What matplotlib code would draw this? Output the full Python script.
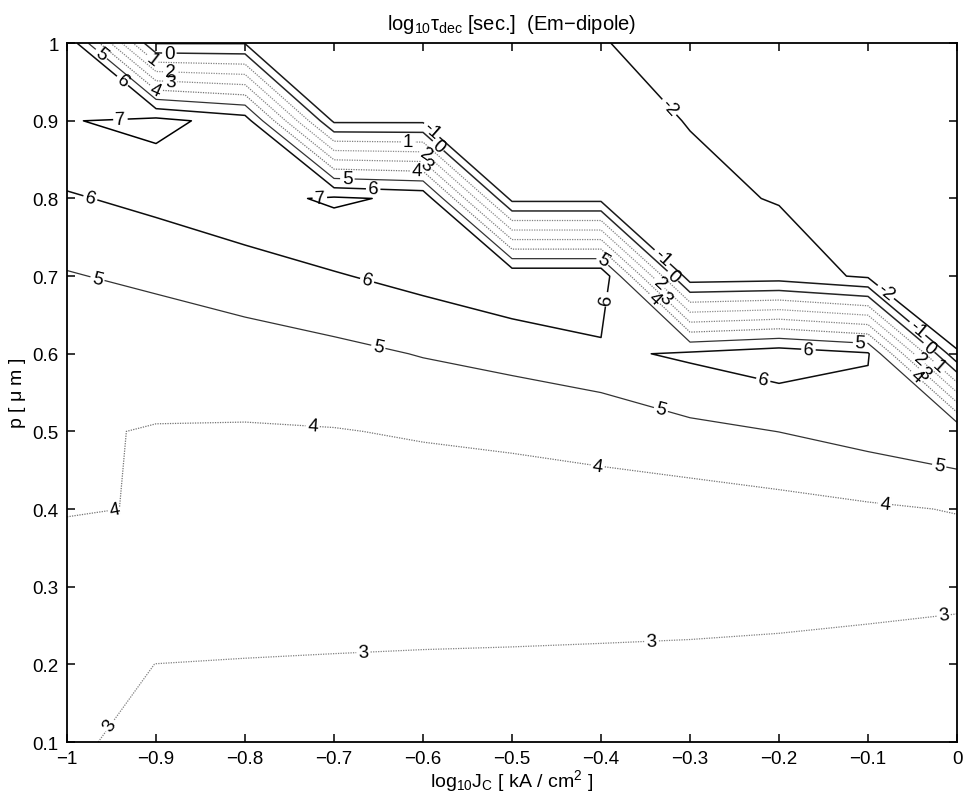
import numpy as np
import matplotlib
matplotlib.use('Agg')
import matplotlib.pyplot as plt

plt.rcParams['font.family'] = ['Liberation Sans', 'DejaVu Sans']
plt.rcParams['mathtext.fontset'] = 'custom'
plt.rcParams['mathtext.rm'] = 'Liberation Sans'
plt.rcParams['mathtext.it'] = 'Liberation Sans:italic'
plt.rcParams['mathtext.default'] = 'regular'

# grid
log_jc = [-1.0, -0.9, -0.8, -0.7, -0.6, -0.5, -0.4, -0.3, -0.2, -0.1, 0.0]
p_um = [0.1, 0.2, 0.3, 0.4, 0.5, 0.6, 0.7, 0.8, 0.9, 1.0]

# log10(tau_dec) at each p, one list per row (columns follow log_jc)
tau_p10 = [3.135, 2.75, 2.65, 2.6, 2.6, 2.6, 2.6, 2.6, 2.6, 2.6, 2.3]
tau_p20 = [3.25, 2.995, 2.97, 2.96, 2.95, 2.91, 2.9, 2.88, 2.86, 2.8, 2.443]
tau_p30 = [3.55, 3.6, 3.35, 3.25, 3.213, 3.31, 3.27, 3.255, 3.21, 3.185, 3.3]
tau_p40 = [4.05, 3.965, 3.7, 3.6, 3.5, 3.54, 3.731, 3.5, 3.663, 3.86, 4.05]
tau_p50 = [4.05, 3.975, 3.933, 3.961, 4.08, 4.18, 4.22, 4.75, 5.01, 5.4, 5.9]
tau_p60 = [4.5, 4.23, 4.49, 4.74, 5.05, 5.32, 5.78, 6.17, 6.61, 6.106, -1.85]
tau_p70 = [4.93, 5.23, 5.57, 5.92, 6.32, 6.83, 6.83, -1.62, -1.5, -2.16, -4.35]
tau_p80 = [5.9, 6.25, 6.645, 7.15, 6.8, -1.31, -1.31, -1.8, -2.05, -3.0, -5.0]
tau_p90 = [6.93, 7.31, 6.53, -1.19, -1.19, -1.8, -1.7, -2.03, -2.6, -3.5, -5.5]
tau_p100 = [6.9, -1.05, -1.05, -1.6, -1.7, -1.85, -1.95, -2.4, -3.0, -4.0, -6.0]

levels = [-2, -1, 0, 1, 2, 3, 4, 5, 6, 7]

Z = np.array([tau_p10, tau_p20, tau_p30, tau_p40, tau_p50,
              tau_p60, tau_p70, tau_p80, tau_p90, tau_p100])

# grey shades like a jet colormap printed in black and white
line_colors = ['0.05', '0.1', '0.15', '0.5', '0.55', '0.5', '0.45', '0.2', '0.05', '0.0']
line_styles = ['-', '-', '-', (0, (1, 1)), (0, (1, 1)), (0, (1, 1)), (0, (1, 1)), '-', '-', '-']
line_widths = [1.1, 1.1, 1.1, 0.9, 0.9, 0.9, 0.9, 0.9, 1.1, 1.1]

# label spots, picked to sit where the original put them
label_spots = {
    -2: [(-0.322, 0.919), (-0.079, 0.681)],
    -1: [(-0.59, 0.888), (-0.335, 0.72), (-0.05, 0.625)],
    0: [(-0.885, 0.988), (-0.575, 0.878), (-0.315, 0.705), (-0.03, 0.61)],
    1: [(-0.905, 0.978), (-0.617, 0.872), (-0.01, 0.598)],
    2: [(-0.884, 0.964), (-0.595, 0.86), (-0.335, 0.69), (-0.045, 0.59)],
    3: [(-0.884, 0.95), (-0.595, 0.845), (-0.325, 0.675), (-0.035, 0.578),
        (-0.954, 0.123), (-0.667, 0.216), (-0.343, 0.23), (-0.015, 0.263)],
    4: [(-0.9, 0.941), (-0.607, 0.834), (-0.345, 0.665), (-0.05, 0.566),
        (-0.946, 0.396), (-0.724, 0.507), (-0.404, 0.454), (-0.081, 0.406)],
    5: [(-0.96, 0.988), (-0.685, 0.825), (-0.398, 0.72), (-0.109, 0.612),
        (-0.965, 0.70), (-0.65, 0.61), (-0.333, 0.527), (-0.02, 0.456)],
    6: [(-0.938, 0.951), (-0.656, 0.812), (-0.393, 0.67), (-0.167, 0.604),
        (-0.218, 0.565), (-0.974, 0.80), (-0.663, 0.694)],
    7: [(-0.94, 0.902), (-0.716, 0.802)],
}

fig = plt.figure(figsize=(9.63, 8.03), dpi=100)
ax = fig.add_axes([0.0696, 0.0747, 0.9242, 0.8703])
ax.set_xlim(-1, 0)
ax.set_ylim(0.1, 1.0)

# one contour set per level so each label lands on its own line
for i, lev in enumerate(levels):
    cs = ax.contour(log_jc, p_um, Z, levels=[lev], colors=[line_colors[i]],
                    linestyles=[line_styles[i]], linewidths=[line_widths[i]])
    ax.clabel(cs, manual=label_spots[lev], inline=True, inline_spacing=2,
              fontsize=13.5, colors='k', fmt='%d')

xt = [-1.0, -0.9, -0.8, -0.7, -0.6, -0.5, -0.4, -0.3, -0.2, -0.1, 0.0]
ax.set_xticks(xt)
ax.set_xticklabels(['\u22121', '\u22120.9', '\u22120.8', '\u22120.7', '\u22120.6',
                    '\u22120.5', '\u22120.4', '\u22120.3', '\u22120.2', '\u22120.1', '0'])
yt = [0.1, 0.2, 0.3, 0.4, 0.5, 0.6, 0.7, 0.8, 0.9, 1.0]
ax.set_yticks(yt)
ax.set_yticklabels(['0.1', '0.2', '0.3', '0.4', '0.5', '0.6', '0.7', '0.8', '0.9', '1'])
ax.tick_params(direction='in', top=True, right=True, length=6, width=1.1,
               labelsize=13.5, pad=6)
for s in ax.spines.values():
    s.set_linewidth(1.3)

ax.set_title(r'log$_{10}\tau_{dec}$ [sec.]  (Em$-$dipole)', fontsize=14.5, pad=10)
ax.set_xlabel(r'log$_{10}$J$_C$ [ kA / cm$^2$ ]', fontsize=14, labelpad=0)
ax.set_ylabel(r'p [ $\mu$ m ]', fontsize=14, labelpad=3)

fig.savefig('out.png', dpi=100)
